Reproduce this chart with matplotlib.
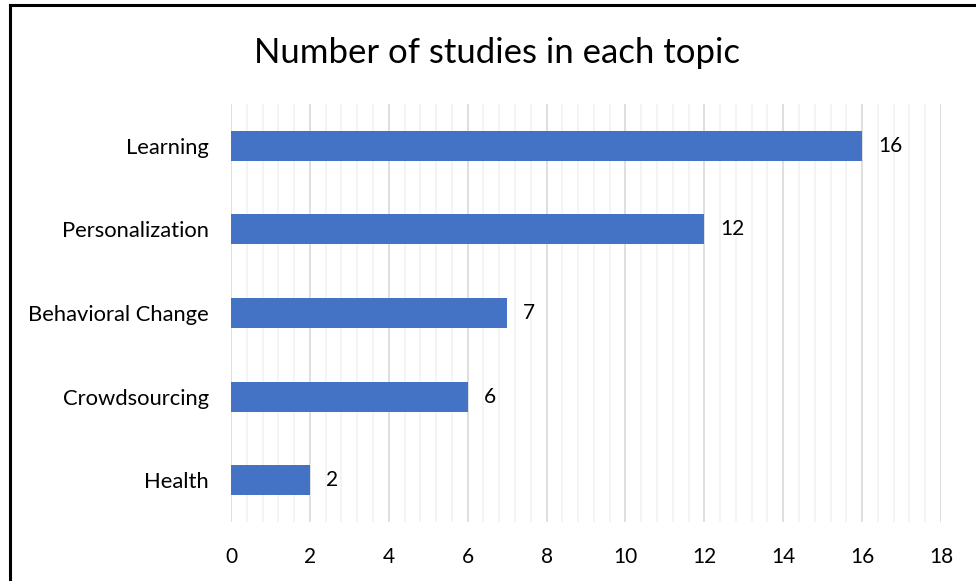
import matplotlib.pyplot as plt
from matplotlib.ticker import MultipleLocator
from matplotlib.lines import Line2D

topics = ["Learning", "Personalization", "Behavioral Change", "Crowdsourcing", "Health"]
counts = [16, 12, 7, 6, 2]

plt.rcParams['font.family'] = ['Lato', 'DejaVu Sans']

fig = plt.figure(figsize=(9.76, 5.81), dpi=100)
ax = fig.add_axes([231 / 976, 1 - 522 / 581, (941 - 231) / 976, (522 - 104) / 581])

ypos = list(range(len(topics)))
ax.barh(ypos, counts, height=0.36, color="#4472C4", zorder=3)
for y, c in zip(ypos, counts):
    ax.text(c + 0.4, y, str(c), va="center", ha="left", fontsize=15, color="#000000")

ax.set_yticks(ypos)
ax.set_yticklabels(topics, fontsize=15.8)
ax.set_ylim(len(topics) - 0.5, -0.5)
ax.set_xlim(0, 18)
ax.xaxis.set_major_locator(MultipleLocator(2))
ax.xaxis.set_minor_locator(MultipleLocator(0.4))
ax.tick_params(axis="x", labelsize=15, length=0, pad=18, which="both")
ax.tick_params(axis="y", length=0, pad=16)
ax.grid(axis="x", which="major", color="#d9d9d9", linewidth=1.2, zorder=0)
ax.grid(axis="x", which="minor", color="#f2f2f2", linewidth=1.2, zorder=0)
for s in ax.spines.values():
    s.set_visible(False)

fig.text(497 / 976, 1 - 53 / 581, "Number of studies in each topic", ha="center", va="center", fontsize=25)

# outer frame (only left and top visible in the crop)
fig.add_artist(Line2D([9.5 / 976, 9.5 / 976], [0, 1 - 5 / 581], color="black", linewidth=2.2, transform=fig.transFigure))
fig.add_artist(Line2D([9.5 / 976, 1], [1 - 5 / 581, 1 - 5 / 581], color="black", linewidth=2.2, transform=fig.transFigure))

fig.savefig("out.png", dpi=100)
